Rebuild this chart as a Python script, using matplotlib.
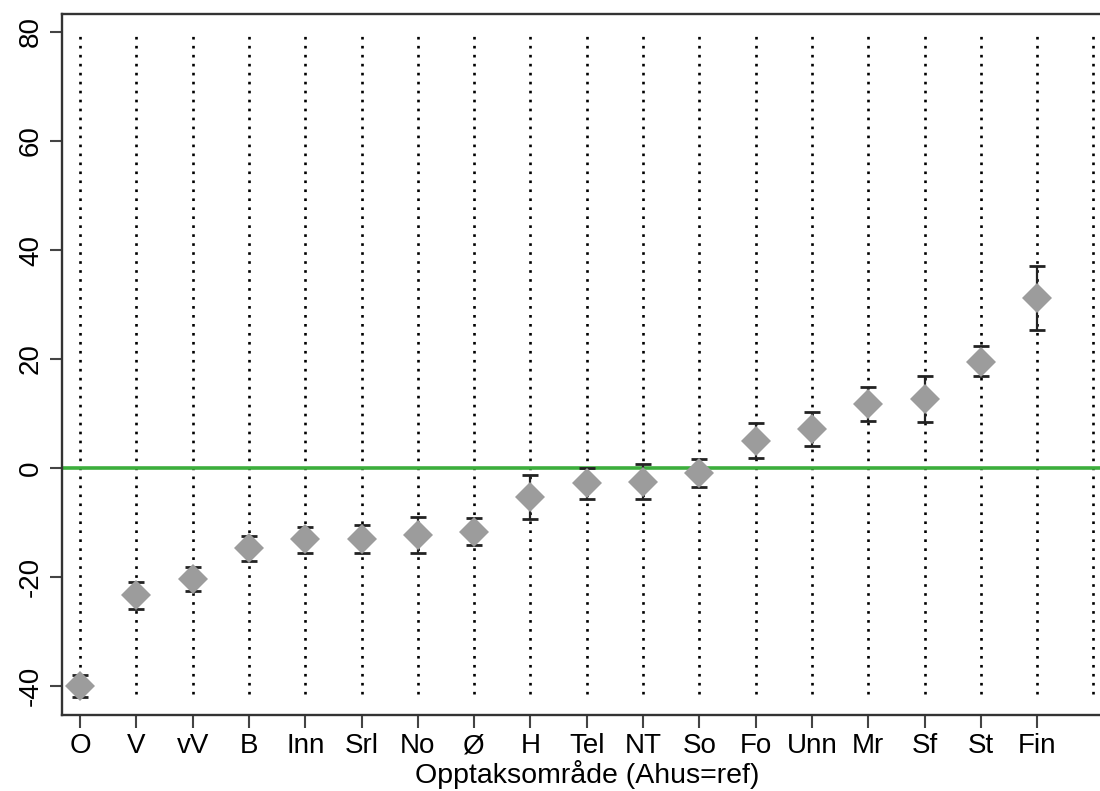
import matplotlib
matplotlib.use("Agg")
import matplotlib.pyplot as plt

# Estimates with 95% intervals per area, Ahus as reference
labels = ["O", "V", "vV", "B", "Inn", "Srl", "No", "Ø", "H", "Tel",
          "NT", "So", "Fo", "Unn", "Mr", "Sf", "St", "Fin"]
est = [-40.0, -23.3, -20.4, -14.7, -13.1, -13.1, -12.3, -11.7, -5.3, -2.8,
       -2.5, -0.9, 5.0, 7.2, 11.7, 12.6, 19.5, 31.2]
lo = [-42.0, -25.9, -22.6, -17.1, -15.5, -15.6, -15.5, -14.1, -9.4, -5.7,
      -5.7, -3.4, 1.9, 4.1, 8.6, 8.5, 16.9, 25.4]
hi = [-38.0, -20.9, -18.1, -12.4, -10.8, -10.5, -8.9, -9.2, -1.2, 0.1,
      0.7, 1.6, 8.2, 10.2, 14.8, 16.8, 22.4, 37.1]
yticks = [-40, -20, 0, 20, 40, 60, 80]

plt.rcParams["font.family"] = ["Liberation Sans", "DejaVu Sans"]

fig = plt.figure(figsize=(11, 7.91), dpi=100)
ax = fig.add_axes([0.0564, 0.0961, 0.954, 0.8862])

x = list(range(1, len(labels) + 1))

# dotted guide lines, one per area plus one spare at the end
ax.vlines(list(range(1, len(labels) + 2)), -41.5, 80, colors="black",
          linestyles=(0, (1, 2.4)), linewidth=1.9, zorder=1)

ax.axhline(0, color="#3cae3c", linewidth=2.6, zorder=2)

yerr = [[e - l for e, l in zip(est, lo)], [h - e for e, h in zip(est, hi)]]
ax.errorbar(x, est, yerr=yerr, fmt="none", ecolor="#222222", elinewidth=1.6,
            capsize=5.8, capthick=2.0, zorder=3)
ax.plot(x, est, "D", color="#9c9c9c", markersize=15.5, markeredgewidth=0,
        zorder=4)

ax.set_xlim(0.68, 19.32)
ax.set_ylim(-45.3, 83.3)
ax.set_xticks(x)
ax.set_xticklabels(labels, fontsize=20)
ax.set_yticks(yticks)
ax.set_yticklabels([str(v) for v in yticks], fontsize=20, rotation=90,
                   va="center")
ax.tick_params(length=9, width=1.5, color="#444444", pad=4)
for s in ax.spines.values():
    s.set_linewidth(1.7)
    s.set_color("#333333")
ax.set_xlabel("Opptaksområde (Ahus=ref)", fontsize=20.5, labelpad=1)

fig.savefig("out.png", dpi=100)
